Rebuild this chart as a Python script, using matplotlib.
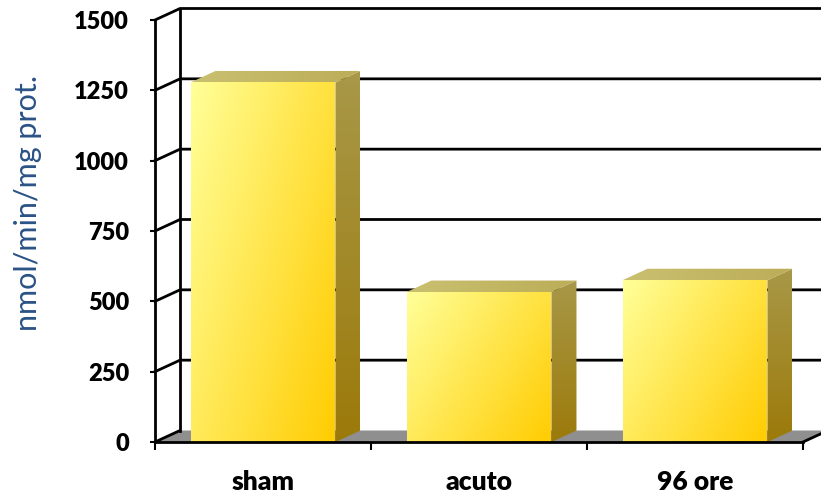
import numpy as np
import matplotlib.pyplot as plt
from matplotlib.patches import Polygon
from matplotlib.lines import Line2D
from matplotlib.transforms import IdentityTransform
from matplotlib.colors import to_rgb

categorie = ['sham', 'acuto', '96 ore']
valori = [1278, 533, 575]
yticks = [0, 250, 500, 750, 1000, 1250, 1500]

DPI = 100
DX, DY = 25, 11.5  # profondita' 3D in pixel
LARG = 0.671       # larghezza barra (frazione della categoria)

plt.rcParams['font.family'] = ['Lato', 'DejaVu Sans']

fig = plt.figure(figsize=(8.21, 4.98), dpi=DPI)
ax = fig.add_axes([155/821, 56/498, 648/821, 422/498])
ax.set_xlim(0, len(categorie))
ax.set_ylim(0, yticks[-1])


def pt(x, y, back=False):
    px, py = ax.transData.transform((x, y))
    if back:
        px += DX
        py += DY
    return (px, py)


def poly(verts, **kw):
    p = Polygon(verts, closed=True, transform=IdentityTransform(), clip_on=False, **kw)
    ax.add_patch(p)
    return p


def linea(pts, z=2):
    xs, ys = zip(*pts)
    ax.add_line(Line2D(xs, ys, transform=IdentityTransform(), clip_on=False,
                       color='black', lw=2, zorder=z))


def gradiente(verts, c0, c1, wx, wy, z):
    # immagine con gradiente lineare ritagliata sul poligono
    verts = np.array(verts)
    inv = ax.transData.inverted()
    (x0, y0) = inv.transform(verts.min(axis=0))
    (x1, y1) = inv.transform(verts.max(axis=0))
    n = 200
    u = np.linspace(0, 1, n)[None, :]
    w = np.linspace(0, 1, n)[:, None]  # 0 in alto
    t = np.clip(wx * u + wy * w, 0, 1)
    a, b = np.array(to_rgb(c0)), np.array(to_rgb(c1))
    img = a[None, None, :] + (b - a)[None, None, :] * t[:, :, None]
    im = ax.imshow(img, extent=(x0, x1, y0, y1), origin='upper', aspect='auto',
                   zorder=z, interpolation='bilinear')
    clip = poly(verts, facecolor='none', edgecolor='none', zorder=0)
    im.set_clip_path(clip)


n = len(categorie)

# pavimento
poly([pt(0, 0), pt(n, 0), pt(n, 0, True), pt(0, 0, True)],
     facecolor='#8f8f8f', edgecolor='none', zorder=1)
linea([pt(0, 0), pt(0, 0, True)])
linea([pt(n, 0), pt(n, 0, True)])

# griglia e pareti
for v in yticks[1:]:
    linea([pt(0, v), pt(0, v, True), pt(n, v, True)])
linea([pt(0, 0, True), pt(0, yticks[-1], True)])

# barre 3D
for i, v in enumerate(valori):
    x0 = i + (1 - LARG) / 2
    x1 = x0 + LARG
    fronte = [pt(x0, 0), pt(x1, 0), pt(x1, v), pt(x0, v)]
    lato = [pt(x1, 0), pt(x1, 0, True), pt(x1, v, True), pt(x1, v)]
    sopra = [pt(x0, v), pt(x1, v), pt(x1, v, True), pt(x0, v, True)]
    gradiente(lato, '#a89848', '#9c7a0a', 0.0, 1.0, 3)
    gradiente(sopra, '#c9c070', '#bcad58', 1.0, 0.0, 3)
    gradiente(fronte, '#ffff99', '#ffcc00', 0.6, 0.4, 4)

ax.set_xlim(0, n)
ax.set_ylim(0, yticks[-1])

# assi
for s in ['top', 'right']:
    ax.spines[s].set_visible(False)
ax.spines['left'].set_linewidth(2)
ax.spines['bottom'].set_linewidth(2)
ax.spines['left'].set_zorder(5)
ax.spines['bottom'].set_zorder(5)
ax.patch.set_visible(False)

ax.set_yticks(yticks)
ax.set_yticklabels([str(t) for t in yticks], fontsize=17, fontweight='heavy')
ax.tick_params(axis='y', length=3.6, width=1.5, pad=15)

ax.set_xticks(range(n + 1))
ax.set_xticklabels([])
ax.set_xticks([i + 0.5 for i in range(n)], minor=True)
ax.set_xticklabels(categorie, minor=True, fontsize=19, fontweight='heavy')
ax.tick_params(axis='x', which='major', length=6, width=1.5)
ax.tick_params(axis='x', which='minor', length=0, pad=20)

fig.text(28/821, 1 - 203/498, 'nmol/min/mg prot.', rotation=90, ha='center', va='center',
         fontsize=22, color='#2a5285')

plt.savefig('out.png', dpi=DPI)
